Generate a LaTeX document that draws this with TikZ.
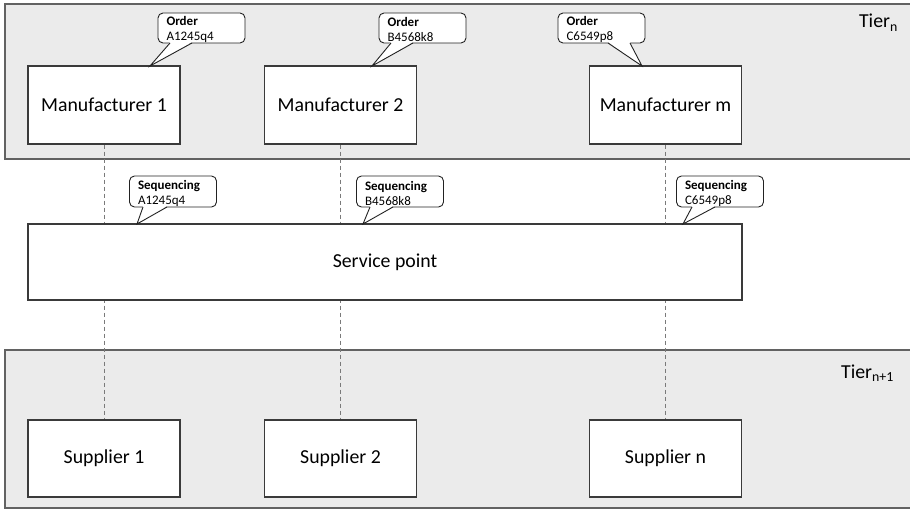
\documentclass[tikz,border=0pt]{standalone}
\usepackage{fontspec}
\setmainfont{Carlito}
\definecolor{bandgray}{HTML}{EBEBEB}
\definecolor{bandline}{HTML}{626262}
\definecolor{boxline}{HTML}{3A3A3A}
\definecolor{calline}{HTML}{222222}
\definecolor{dashgray}{HTML}{7A7A7A}
\newcommand\cstrut{\rule{0pt}{12.5pt}}
\begin{document}
\pgfdeclarelayer{bg}\pgfdeclarelayer{lines}\pgfsetlayers{bg,lines,main}
\begin{tikzpicture}[x=1pt,y=-1pt,
  band/.style={fill=bandgray, draw=bandline, line width=1.4pt},
  box/.style={draw=boxline, fill=white, line width=1.1pt, inner sep=0pt,
    font=\fontsize{19.8}{22}\selectfont},
  mbox/.style={box, minimum width=152pt, minimum height=78pt},
  callout/.style={draw=calline, fill=white, rounded corners=5pt, line width=0.9pt,
    minimum width=87pt, minimum height=30pt, text width=70pt, align=left,
    inner xsep=8.5pt, inner ysep=0pt, font=\fontsize{13}{15}\selectfont},
  pointer/.style={draw=calline, line width=0.9pt, line join=miter},
  link/.style={draw=dashgray, dash pattern=on 4pt off 3pt, line width=0.9pt},
  tier/.style={font=\fontsize{19.8}{22}\selectfont, inner sep=0pt}]
\useasboundingbox (0,0) rectangle (910,510);
\begin{pgfonlayer}{bg}
  \draw[band] (5,4) rectangle (915,159);
  \draw[band] (5,350) rectangle (915,508);
\end{pgfonlayer}
\node[tier, anchor=base east] (tn) at (898,28) {Tier\textsubscript{n}};
\node[tier, anchor=base east] (tn1) at (894,378) {Tier\textsubscript{n+1}};
% manufacturers
\node[mbox] (m1) at (104,105) {Manufacturer 1};
\node[mbox] (m2) at (340.5,105) {Manufacturer 2};
\node[mbox] (mm) at (665.5,105) {Manufacturer m};
% service point
\node[box, minimum width=714pt, minimum height=76pt] (sp) at (385,262) {Service point};
% suppliers
\node[mbox, minimum height=77pt] (s1) at (104,458.5) {Supplier 1};
\node[mbox, minimum height=77pt] (s2) at (340.5,458.5) {Supplier 2};
\node[mbox, minimum height=77pt] (sn) at (665.5,458.5) {Supplier n};
% dashed links
\begin{pgfonlayer}{lines}
  \draw[link] (m1.south) -- (s1.north);
  \draw[link] (m2.south) -- (s2.north);
  \draw[link] (mm.south) -- (sn.north);
\end{pgfonlayer}
% order callouts
\node[callout] (o1) at (201.5,28) {\cstrut\textbf{Order}\\A1245q4};
\fill[white] (170,42) -- (150,66) -- (192,42) -- cycle;
\draw[pointer] (170,43) -- (150,66) -- (192,43);
\node[callout] (o2) at (422.5,28) {\cstrut\textbf{Order}\\B4568k8};
\fill[white] (391,42) -- (372,66) -- (413,42) -- cycle;
\draw[pointer] (391,43) -- (372,66) -- (413,43);
\node[callout] (o3) at (601.5,28) {\cstrut\textbf{Order}\\C6549p8};
\fill[white] (608,42) -- (642,66) -- (630,42) -- cycle;
\draw[pointer] (608,43) -- (642,66) -- (630,43);
% sequencing callouts
\node[callout, minimum height=31pt] (q1) at (173,191.5) {\cstrut\textbf{Sequencing}\\A1245q4};
\fill[white] (143,206) -- (137,224) -- (167,206) -- cycle;
\draw[pointer] (143,207) -- (137,224) -- (167,207);
\node[callout, minimum height=31pt] (q2) at (400,191.5) {\cstrut\textbf{Sequencing}\\B4568k8};
\fill[white] (370,206) -- (363,224) -- (393,206) -- cycle;
\draw[pointer] (370,207) -- (363,224) -- (393,207);
\node[callout, minimum height=31pt] (q3) at (720,191.5) {\cstrut\textbf{Sequencing}\\C6549p8};
\fill[white] (692,206) -- (683,224) -- (715,206) -- cycle;
\draw[pointer] (692,207) -- (683,224) -- (715,207);
\end{tikzpicture}
\end{document}
